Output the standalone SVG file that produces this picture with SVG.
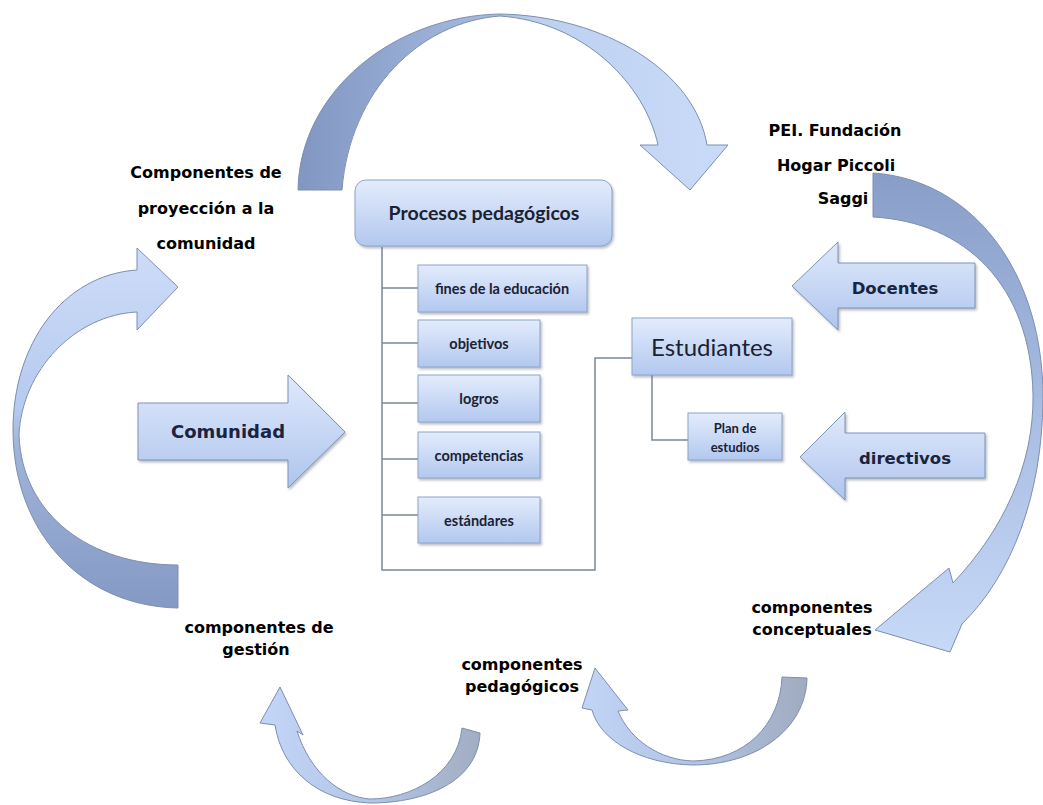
<svg xmlns="http://www.w3.org/2000/svg" width="1043" height="805" viewBox="0 0 1043 805">
<defs>
<linearGradient id="gBox" x1="0" y1="0" x2="0" y2="1">
<stop offset="0" stop-color="#e3ecfc"/><stop offset="1" stop-color="#b2c8ef"/>
</linearGradient>
<linearGradient id="gArrow" x1="0" y1="0" x2="0" y2="1">
<stop offset="0" stop-color="#dfe9fb"/><stop offset="1" stop-color="#afc5ee"/>
</linearGradient>
<linearGradient id="gTop" gradientUnits="userSpaceOnUse" x1="298" y1="0" x2="728" y2="0">
<stop offset="0" stop-color="#8197c2"/><stop offset="0.45" stop-color="#a6badf"/><stop offset="0.55" stop-color="#bdd0f1"/><stop offset="1" stop-color="#c9dbf8"/>
</linearGradient>
<linearGradient id="gRight" gradientUnits="userSpaceOnUse" x1="0" y1="173" x2="0" y2="652">
<stop offset="0" stop-color="#889ec8"/><stop offset="0.5" stop-color="#a9bde3"/><stop offset="1" stop-color="#c6d9f7"/>
</linearGradient>
<linearGradient id="gLeft" gradientUnits="userSpaceOnUse" x1="0" y1="248" x2="0" y2="608">
<stop offset="0" stop-color="#cddcf8"/><stop offset="0.45" stop-color="#b6caef"/><stop offset="0.55" stop-color="#a0b4db"/><stop offset="1" stop-color="#8499c3"/>
</linearGradient>
<linearGradient id="gBL" gradientUnits="userSpaceOnUse" x1="260" y1="0" x2="480" y2="0">
<stop offset="0" stop-color="#c3d6f7"/><stop offset="0.5" stop-color="#b3c5e6"/><stop offset="1" stop-color="#a1adc2"/>
</linearGradient>
<linearGradient id="gBR" gradientUnits="userSpaceOnUse" x1="582" y1="0" x2="807" y2="0">
<stop offset="0" stop-color="#c2d5f7"/><stop offset="0.5" stop-color="#b2c3e3"/><stop offset="1" stop-color="#a0abc0"/>
</linearGradient>
<filter id="sh" x="-10%" y="-10%" width="130%" height="140%">
<feDropShadow dx="1.5" dy="2" stdDeviation="1.2" flood-color="#6b7480" flood-opacity="0.45"/>
</filter>
</defs>
<style>
.arc{stroke:#7d8fae;stroke-width:1}
.box{fill:url(#gBox);stroke:#8ea4c6;stroke-width:1;filter:url(#sh)}
.sarrow{fill:url(#gArrow);stroke:#7f93b5;stroke-width:1;filter:url(#sh)}
.lbl{font-family:"Comic Sans MS","DejaVu Sans",sans-serif;font-weight:bold;fill:#000;text-anchor:middle;font-size:16px}
.atxt{font-family:"Comic Sans MS","DejaVu Sans",sans-serif;font-weight:bold;fill:#1a2340;text-anchor:middle}
.btxt{font-family:Lato,"Open Sans",sans-serif;fill:#1b2233;text-anchor:middle}
.ctxt{font-family:Lato,"Open Sans",sans-serif;fill:#1b2233;text-anchor:middle;font-weight:bold;font-size:14.5px}
.conn{fill:none;stroke:#7a8899;stroke-width:1.5}
</style>

<g id="curved-arrows">
<path id="arc-top" class="arc" fill="url(#gTop)" d="M298,190 C300,90 395,16 500,14 C605,16 695,72 707,145 L728,145 L690,190 L640,145 L658,145 C645,85 585,22 500,16 C420,22 350,90 342,190 Z"/>
<path id="arc-right" class="arc" fill="url(#gRight)" d="M873,173 C975,180 1044,275 1043,400 C1042,495 1012,575 962,624 L950,652 L875,630 L949,568 L953,583 C1003,530 1034,465 1033,395 C1031,285 965,222 873,217 Z"/>
<path id="arc-left" class="arc" fill="url(#gLeft)" d="M178,608 C80,606 13,530 13,430 C13,345 62,275 137,270 L137,248 L178,287 L137,330 L137,312 C75,315 22,370 19,435 C22,515 90,565 178,565 Z"/>
<path id="arc-bottom-left" class="arc" fill="url(#gBL)" d="M480,733 C478,782 425,803 370,803 C318,801 282,770 275,725 L260,723 L280,687 L303,735 L297,731 C310,772 340,797 370,799 C410,799 457,775 462,728 Z"/>
<path id="arc-bottom-right" class="arc" fill="url(#gBR)" d="M807,678 C806,730 755,765 693,765 C640,764 600,740 592,710 L582,708 L595,668 L628,710 L618,711 C630,740 660,760 693,761 C745,760 780,725 782,677 Z"/>
</g>

<g id="connectors">
<path class="conn" d="M382,247 V570 H595 V358 H632"/>
<path class="conn" d="M382,288 H418 M382,343 H418 M382,403 H418 M382,459 H418 M382,515 H418"/>
<path class="conn" d="M652,375 V440 H688"/>
</g>

<g id="comunidad">
<path class="sarrow" d="M138,403 L288,403 L288,375 L345,432 L288,488 L288,460 L138,460 Z"/>
<text class="atxt" x="228" y="438" font-size="18">Comunidad</text>
</g>
<g id="docentes">
<path class="sarrow" d="M975,263 L838,263 L838,242 L792,286 L838,330 L838,308 L975,308 Z"/>
<text class="atxt" x="895" y="294" font-size="16.5">Docentes</text>
</g>
<g id="directivos">
<path class="sarrow" d="M985,433 L845,433 L845,412 L800,457 L845,500 L845,478 L985,478 Z"/>
<text class="atxt" x="905" y="464" font-size="16.5">directivos</text>
</g>

<g id="procesos">
<rect class="box" x="355" y="180" width="257" height="66" rx="11"/>
<text class="btxt" x="484" y="220" font-size="19.5" font-weight="bold">Procesos pedagógicos</text>
</g>
<g id="fines">
<rect class="box" x="418" y="265" width="169" height="47"/>
<text class="ctxt" x="502" y="294">fines de la educación</text>
</g>
<g id="objetivos">
<rect class="box" x="418" y="320" width="122" height="47"/>
<text class="ctxt" x="479" y="349">objetivos</text>
</g>
<g id="logros">
<rect class="box" x="418" y="375" width="122" height="47"/>
<text class="ctxt" x="479" y="404">logros</text>
</g>
<g id="competencias">
<rect class="box" x="418" y="432" width="122" height="46"/>
<text class="ctxt" x="479" y="461">competencias</text>
</g>
<g id="estandares">
<rect class="box" x="418" y="497" width="122" height="46"/>
<text class="ctxt" x="479" y="526">estándares</text>
</g>
<g id="estudiantes">
<rect class="box" x="632" y="318" width="160" height="57"/>
<text class="btxt" x="712" y="356" font-size="24">Estudiantes</text>
</g>
<g id="plan">
<rect class="box" x="688" y="413" width="94" height="47"/>
<text class="btxt" x="735" y="433" font-size="13" font-weight="bold">Plan de</text>
<text class="btxt" x="735" y="452" font-size="13" font-weight="bold">estudios</text>
</g>

<g id="label-proyeccion">
<text class="lbl" x="206" y="178">Componentes de</text>
<text class="lbl" x="206" y="214">proyección a la</text>
<text class="lbl" x="206" y="249">comunidad</text>
</g>
<g id="label-pei">
<text class="lbl" x="835" y="136">PEI. Fundación</text>
<text class="lbl" x="836" y="171">Hogar Piccoli</text>
<text class="lbl" x="843" y="204">Saggi</text>
</g>
<g id="label-gestion">
<text class="lbl" x="259" y="633">componentes de</text>
<text class="lbl" x="256" y="655">gestión</text>
</g>
<g id="label-pedagogicos">
<text class="lbl" x="522" y="670">componentes</text>
<text class="lbl" x="522" y="692">pedagógicos</text>
</g>
<g id="label-conceptuales">
<text class="lbl" x="812" y="613">componentes</text>
<text class="lbl" x="812" y="635">conceptuales</text>
</g>
</svg>
